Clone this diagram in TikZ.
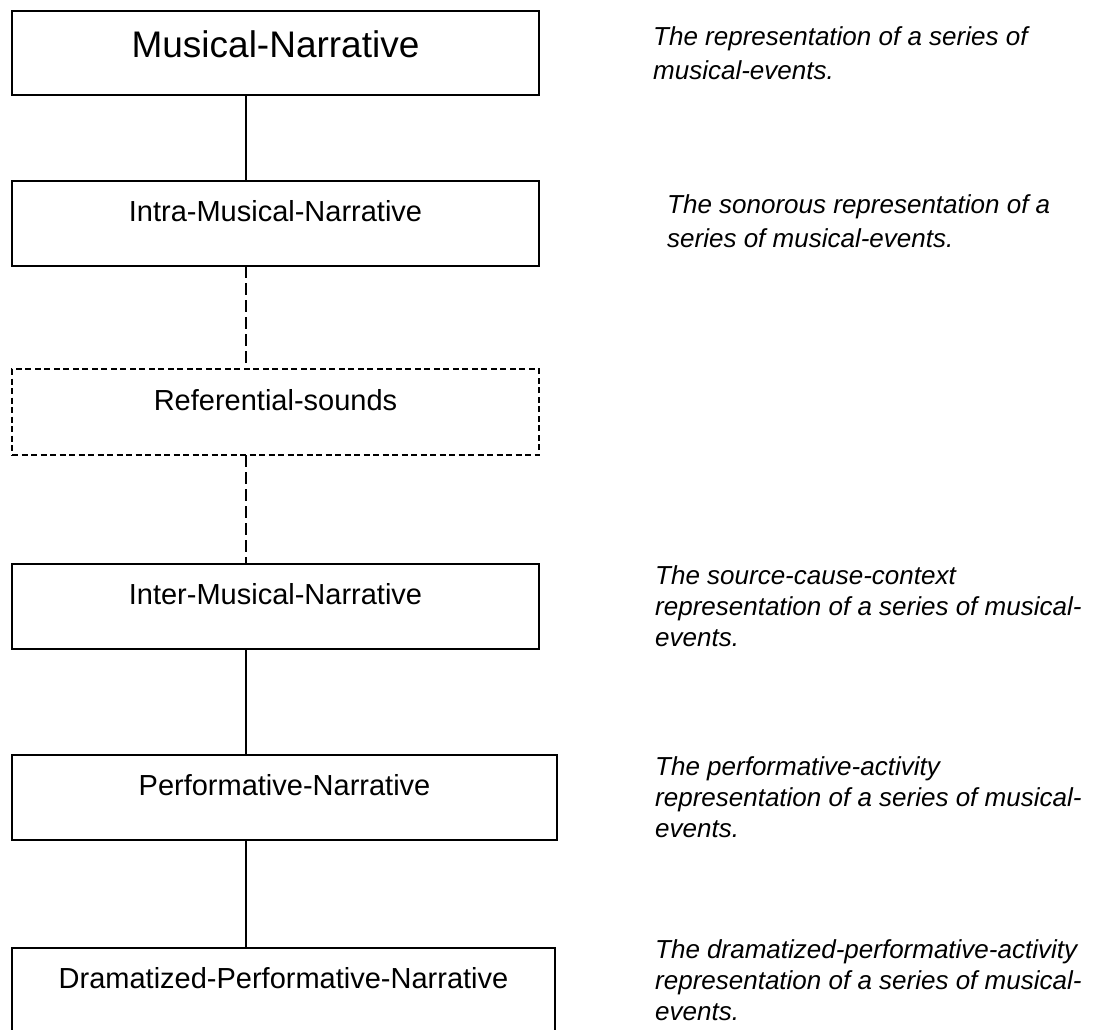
\documentclass[tikz,border=0pt]{standalone}
\usepackage{fontspec}
\setmainfont{Liberation Sans}
\usetikzlibrary{calc}

\tikzset{
  box/.style={draw=black, line width=1.8pt, rectangle, anchor=north west,
              inner sep=0pt, outer sep=0pt},
  dashbox/.style={box, line width=1.4pt, dash pattern=on 6pt off 3.5pt},
  boxtext/.style={anchor=base, inner sep=0pt, font=\fontsize{29}{33}\selectfont},
  bigtext/.style={anchor=base, inner sep=0pt, font=\fontsize{37}{42}\selectfont},
  desc/.style={anchor=north west, inner sep=0pt, align=left,
               font=\fontsize{26}{31}\selectfont\itshape},
  desctop/.style={desc, font=\fontsize{26}{34}\selectfont\itshape},
  link/.style={draw=black, line width=1.8pt},
  dashlink/.style={draw=black, line width=1.4pt, dash pattern=on 12pt off 5pt},
}

\begin{document}
\begin{tikzpicture}[x=1pt, y=-1pt]
  \useasboundingbox (0,0) rectangle (1099,1029);
  \fill[white] (0,0) rectangle (1099,1029);
  \clip (0,0) rectangle (1099,1029);

  % spine of the hierarchy
  \coordinate (cx) at (246,0);

  % boxes
  \node[box, minimum width=527pt, minimum height=84pt] (b1) at (12,11) {};
  \node[box, minimum width=527pt, minimum height=85pt] (b2) at (12,181) {};
  \node[dashbox, minimum width=527pt, minimum height=86pt] (b3) at (12,369) {};
  \node[box, minimum width=527pt, minimum height=85pt] (b4) at (12,564) {};
  \node[box, minimum width=545pt, minimum height=85pt] (b5) at (12,755) {};
  \node[box, minimum width=543pt, minimum height=120pt] (b6) at (12,948) {};

  % box titles
  \node[bigtext] (t1) at ([yshift=-46pt]b1.north) {Musical-Narrative};
  \node[boxtext] (t2) at ([yshift=-40pt]b2.north) {Intra-Musical-Narrative};
  \node[boxtext] (t3) at ([yshift=-41pt]b3.north) {Referential-sounds};
  \node[boxtext] (t4) at ([yshift=-40pt]b4.north) {Inter-Musical-Narrative};
  \node[boxtext] (t5) at ([yshift=-40pt]b5.north) {Performative-Narrative};
  \node[boxtext] (t6) at ([yshift=-40pt]b6.north) {Dramatized-Performative-Narrative};

  % connectors
  \draw[link]     (b1.south -| cx) -- (b2.north -| cx);
  \draw[dashlink] (b2.south -| cx) -- (b3.north -| cx);
  \draw[dashlink] (b3.south -| cx) -- (b4.north -| cx);
  \draw[link]     (b4.south -| cx) -- (b5.north -| cx);
  \draw[link]     (b5.south -| cx) -- (b6.north -| cx);

  % descriptions
  \node[desctop] (d1) at (653,26) {The representation of a series of\\musical-events.};
  \node[desctop] (d2) at (667,194) {The sonorous representation of a\\series of musical-events.};
  \node[desc] (d4) at (655,565) {The source-cause-context\\representation of a series of musical-\\events.};
  \node[desc] (d5) at (655,756) {The performative-activity\\representation of a series of musical-\\events.};
  \node[desc] (d6) at (655,939) {The dramatized-performative-activity\\representation of a series of musical-\\events.};
\end{tikzpicture}
\end{document}
